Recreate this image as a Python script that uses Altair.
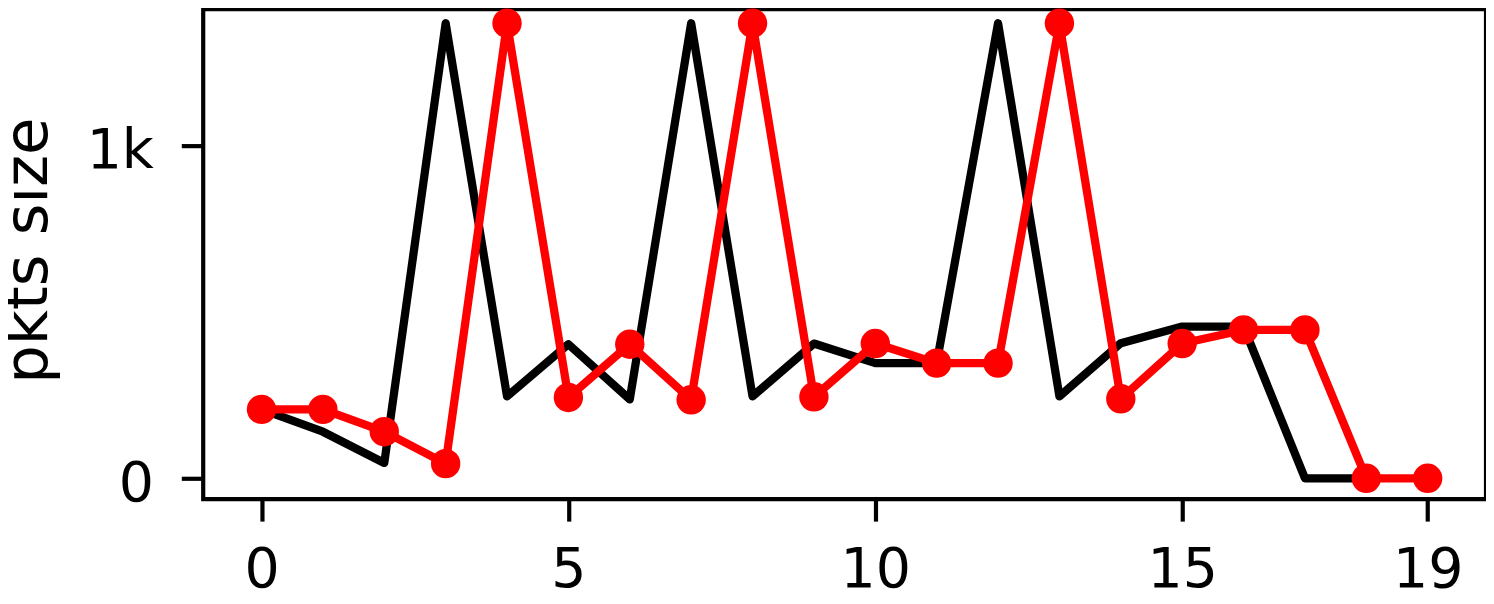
import altair as alt
import pandas as pd

# indices (packet sequence numbers)
black_x = list(range(19))
black_y = [207, 140, 46, 1368, 246, 403, 237, 1368, 246, 405, 346, 346, 1368, 246, 406, 456, 456, 0, 0]

red_x = list(range(20))
red_y = [207, 207, 140, 44, 1368, 243, 403, 236, 1368, 245, 405, 346, 346, 1368, 239, 405, 446, 446, 0, 0]

x_ticks = [0, 5, 10, 15, 19]
y_ticks = [0, 1000]

black_df = pd.DataFrame({"idx": black_x, "size": black_y})
red_df = pd.DataFrame({"idx": red_x, "size": red_y})

FONT = "DejaVu Sans"

x_enc = alt.X(
    "idx:Q",
    scale=alt.Scale(domain=[-0.95, 19.95], nice=False, zero=False),
    axis=alt.Axis(
        values=x_ticks,
        title=None,
        grid=False,
        domain=False,
        tickSize=22,
        tickWidth=4.2,
        tickColor="black",
        labelFont=FONT,
        labelFontSize=55.6,
        labelColor="black",
        labelPadding=22,
        labelFlush=False,
        labelOverlap=False,
    ),
)

y_enc = alt.Y(
    "size:Q",
    scale=alt.Scale(domain=[-62.9, 1410.2], nice=False, zero=False),
    axis=alt.Axis(
        values=y_ticks,
        title="pkts size",
        titleFont=FONT,
        titleFontSize=61,
        titleFontWeight="normal",
        titleColor="black",
        titleAngle=270,
        titleAlign="center",
        titleBaseline="alphabetic",
        titleX=-157,
        titleY=242,
        grid=False,
        domain=False,
        tickSize=22,
        tickWidth=4.2,
        tickColor="black",
        labelFont=FONT,
        labelFontSize=55.6,
        labelColor="black",
        labelPadding=28,
        labelOffset=5,
        labelFlush=False,
        labelOverlap=False,
        labelExpr="datum.value == 1000 ? '1k' : datum.label",
    ),
)

black_line = alt.Chart(black_df).mark_line(
    color="black", strokeWidth=8.3, strokeJoin="round", strokeCap="butt"
).encode(x=x_enc, y=y_enc)

red_line = alt.Chart(red_df).mark_line(
    color="#ff0000", strokeWidth=8.3, strokeJoin="round", strokeCap="butt",
    point=alt.OverlayMarkDef(filled=True, color="#ff0000", size=870, opacity=1),
).encode(x=x_enc, y=y_enc)

chart = (
    alt.layer(black_line, red_line)
    .properties(
        width=1288,
        height=492,
        autosize=alt.AutoSizeParams(type="none"),
        padding={"left": 196, "top": 0, "right": 0, "bottom": 96},
        background="white",
    )
    .configure_view(stroke="black", strokeWidth=4.2)
)

chart.save("out.html", embed_options={"renderer": "svg", "actions": False})
